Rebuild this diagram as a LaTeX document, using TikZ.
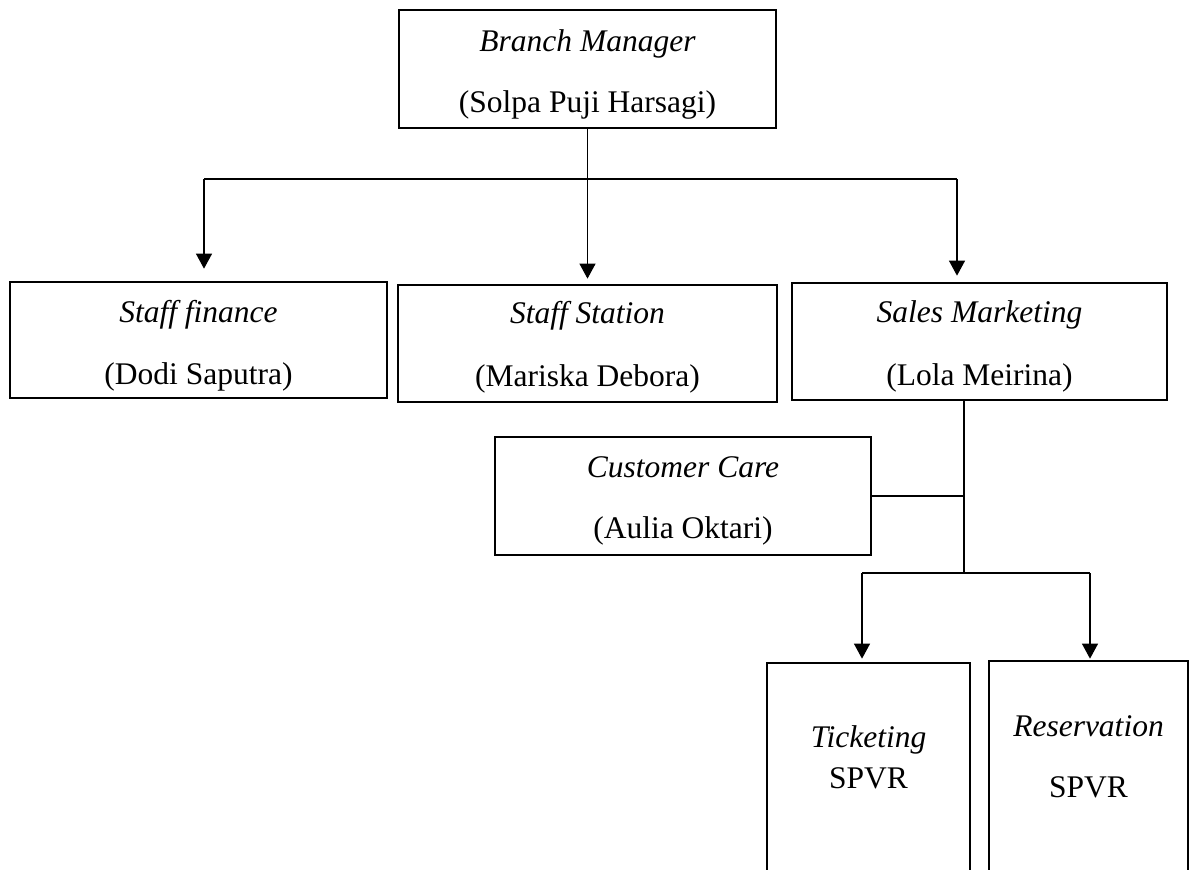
\documentclass[tikz,border=0pt]{standalone}
\usepackage{fontspec}
\setmainfont{Liberation Serif}
\usetikzlibrary{arrows.meta}
\begin{document}
\begin{tikzpicture}[x=1pt,y=-1pt,
  box/.style={draw, line width=2.7pt, inner sep=0pt},
  conn/.style={line width=1.1pt},
  arr/.style={conn, -{Triangle[width=16pt,length=15pt]}},
  lbl/.style={font=\fontsize{31.5}{36}\selectfont, anchor=base, inner sep=0pt}
]
\useasboundingbox (0,0) rectangle (1197,870);
\clip (0,0) rectangle (1197,870);

% boxes
\node[box, minimum width=377pt, minimum height=118pt] (bm) at (587.5,69) {};
\node[box, minimum width=377pt, minimum height=116pt] (sf) at (198.5,340) {};
\node[box, minimum width=379pt, minimum height=117pt] (ss) at (587.5,343.5) {};
\node[box, minimum width=375pt, minimum height=117pt] (sm) at (979.5,341.5) {};
\node[box, minimum width=376pt, minimum height=118pt] (cc) at (683,496) {};
\node[box, minimum width=203pt, minimum height=237pt] (tk) at (868.5,781.5) {};
\node[box, minimum width=199pt, minimum height=239pt] (rs) at (1088.5,780.5) {};

% texts
\node[lbl] (bm1) at (587.5,51) {\textit{Branch Manager}};
\node[lbl] (bm2) at (587.5,112) {(Solpa Puji Harsagi)};
\node[lbl] (sf1) at (198.5,322) {\textit{Staff finance}};
\node[lbl] (sf2) at (198.5,384) {(Dodi Saputra)};
\node[lbl] (ss1) at (587.5,323) {\textit{Staff Station}};
\node[lbl] (ss2) at (587.5,386) {(Mariska Debora)};
\node[lbl] (sm1) at (979.5,322) {\textit{Sales Marketing}};
\node[lbl] (sm2) at (979.5,385) {(Lola Meirina)};
\node[lbl] (cc1) at (683,477) {\textit{Customer Care}};
\node[lbl] (cc2) at (683,538) {(Aulia Oktari)};
\node[lbl] (tk1) at (868.5,747) {\textit{Ticketing}};
\node[lbl] (tk2) at (868.5,788) {SPVR};
\node[lbl] (rs1) at (1088.5,736) {\textit{Reservation}};
\node[lbl] (rs2) at (1088.5,797) {SPVR};

% upper connectors
\coordinate (hl) at (204,179);
\coordinate (hr) at (957,179);
\draw[conn] (hl) -- (hr);
\draw[arr, shorten >=5pt] (bm.south) -- (ss.north);
\draw[arr, shorten >=12pt] (hl) -- (hl |- sf.north);
\draw[arr, shorten >=6pt] (hr) -- (hr |- sm.north);

% lower connectors
\coordinate (v0) at (964,573);
\draw[conn] (sm.south -| v0) -- (v0);
\draw[conn] (cc.east) -- (cc.east -| v0);
\coordinate (bl) at (862,573);
\coordinate (br) at (1090,573);
\draw[conn] (bl) -- (br);
\draw[arr, shorten >=3pt] (bl) -- (bl |- tk.north);
\draw[arr, shorten >=1pt] (br) -- (br |- rs.north);
\end{tikzpicture}
\end{document}
